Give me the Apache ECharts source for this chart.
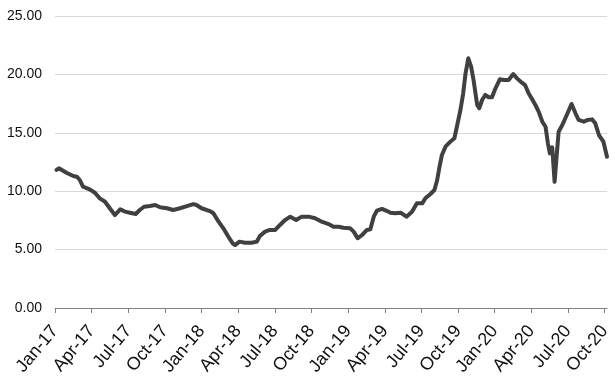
<!DOCTYPE html>
<html><head><meta charset="utf-8">
<script src="https://cdn.jsdelivr.net/npm/echarts@6/dist/echarts.min.js"></script>
<style>html,body{margin:0;padding:0;background:#fff}#c{width:615px;height:390px}</style>
</head><body><div id="c"></div>
<script>
const dates = [
'2017-01-05','2017-01-11','2017-01-30','2017-02-15','2017-02-23','2017-03-02','2017-03-10','2017-03-27',
'2017-04-09','2017-04-21','2017-05-04','2017-05-16','2017-05-29','2017-06-11','2017-06-23','2017-07-05',
'2017-07-20','2017-07-30','2017-08-10','2017-08-25','2017-09-07','2017-09-19','2017-10-06','2017-10-22',
'2017-11-08','2017-11-25','2017-12-11','2017-12-19','2018-01-01','2018-01-22','2018-01-31','2018-02-12',
'2018-02-23','2018-03-07','2018-03-18','2018-03-24','2018-04-04','2018-04-18','2018-05-04','2018-05-17',
'2018-05-25','2018-06-07','2018-06-19','2018-07-02','2018-07-14','2018-07-27','2018-08-09','2018-08-24',
'2018-09-07','2018-09-24','2018-10-10','2018-10-27','2018-11-13','2018-11-25','2018-12-08','2018-12-20',
'2019-01-06','2019-01-15','2019-01-25','2019-02-05','2019-02-16','2019-02-24','2019-03-04','2019-03-12',
'2019-03-25','2019-04-07','2019-04-15','2019-04-27','2019-05-10','2019-05-25','2019-06-08','2019-06-20',
'2019-07-03','2019-07-11','2019-07-24','2019-08-03','2019-08-10','2019-08-16','2019-08-22','2019-08-31',
'2019-09-12','2019-09-22','2019-09-29','2019-10-07','2019-10-14','2019-10-20','2019-10-27','2019-11-03',
'2019-11-09','2019-11-18','2019-11-23','2019-11-30','2019-12-08','2019-12-17','2019-12-25','2020-01-03',
'2020-01-14','2020-01-24','2020-02-05','2020-02-16','2020-02-25','2020-03-08','2020-03-16','2020-03-25',
'2020-04-03','2020-04-11','2020-04-19','2020-04-28','2020-05-06','2020-05-12','2020-05-17','2020-05-23',
'2020-05-29','2020-06-03','2020-06-08','2020-06-17','2020-06-28','2020-07-10','2020-07-20','2020-07-28',
'2020-08-10','2020-08-20','2020-08-31','2020-09-08','2020-09-17','2020-09-28','2020-10-07'
];
const values = [
11.82,11.96,11.58,11.30,11.24,10.96,10.39,10.16,
9.87,9.39,9.10,8.54,7.96,8.45,8.25,8.16,
8.05,8.39,8.67,8.73,8.82,8.62,8.54,8.39,
8.54,8.73,8.90,8.82,8.54,8.30,8.11,7.39,
6.82,6.10,5.54,5.39,5.68,5.59,5.59,5.68,
6.16,6.54,6.68,6.68,7.11,7.53,7.82,7.53,
7.82,7.82,7.68,7.39,7.19,6.96,6.96,6.87,
6.82,6.54,5.97,6.25,6.68,6.74,7.82,8.33,
8.48,8.30,8.16,8.11,8.16,7.82,8.25,8.96,
8.96,9.39,9.76,10.10,10.96,12.10,13.10,13.81,
14.24,14.53,15.67,16.95,18.38,20.09,21.38,20.67,
19.52,17.38,17.10,17.81,18.24,18.04,18.04,18.81,
19.58,19.52,19.52,20.03,19.66,19.29,19.09,18.38,
17.87,17.38,16.81,15.95,15.52,14.10,13.24,13.76,
10.81,12.95,15.09,15.67,16.52,17.47,16.67,16.10,
15.95,16.10,16.15,15.81,14.81,14.24,12.95
];
const tickLabels = ['Jan-17','Apr-17','Jul-17','Oct-17','Jan-18','Apr-18','Jul-18','Oct-18',
'Jan-19','Apr-19','Jul-19','Oct-19','Jan-20','Apr-20','Jul-20','Oct-20'];

function toMonthIndex(s){
  const p = s.split('-').map(Number);
  const dim = new Date(p[0], p[1], 0).getDate();
  return (p[0]-2017)*12 + (p[1]-1) + (p[2]-1)/dim;
}
const seriesData = dates.map((d,i)=>[toMonthIndex(d), values[i]]);
const tickPos = tickLabels.map((_,i)=>i*3);
const xMax = seriesData[seriesData.length-1][0];

const chart = echarts.init(document.getElementById('c'), null, {renderer:'canvas'});
chart.setOption({
  animation:false,
  backgroundColor:'#fff',
  grid:{left:55,right:8,top:16,bottom:82},
  xAxis:{
    type:'value', min:0, max:xMax,
    splitLine:{show:false},
    axisLine:{show:true,lineStyle:{color:'#808080',width:1}},
    axisTick:{show:true,length:5,lineStyle:{color:'#808080'},customValues:tickPos},
    axisLabel:{
      customValues:tickPos,
      rotate:50, margin:20,
      fontFamily:'Liberation Sans, Arial, sans-serif', fontSize:18, color:'#111',
      formatter:function(v){ const i=Math.round(v/3); return (Math.abs(v-i*3)<1e-6 && tickLabels[i])? tickLabels[i] : ''; }
    }
  },
  yAxis:{
    type:'value', min:0, max:25, interval:5,
    axisLine:{show:false}, axisTick:{show:false},
    splitLine:{lineStyle:{color:'#d9d9d9',width:1}},
    axisLabel:{margin:13,fontFamily:'Liberation Sans, Arial, sans-serif',fontSize:14,color:'#111',
      formatter:function(v){return v.toFixed(2);}}
  },
  series:[{
    type:'line', data:seriesData, showSymbol:false, symbol:'none',
    lineStyle:{color:'#404040',width:4,join:'round',cap:'round'},
    smooth:false
  }]
});
</script></body></html>
